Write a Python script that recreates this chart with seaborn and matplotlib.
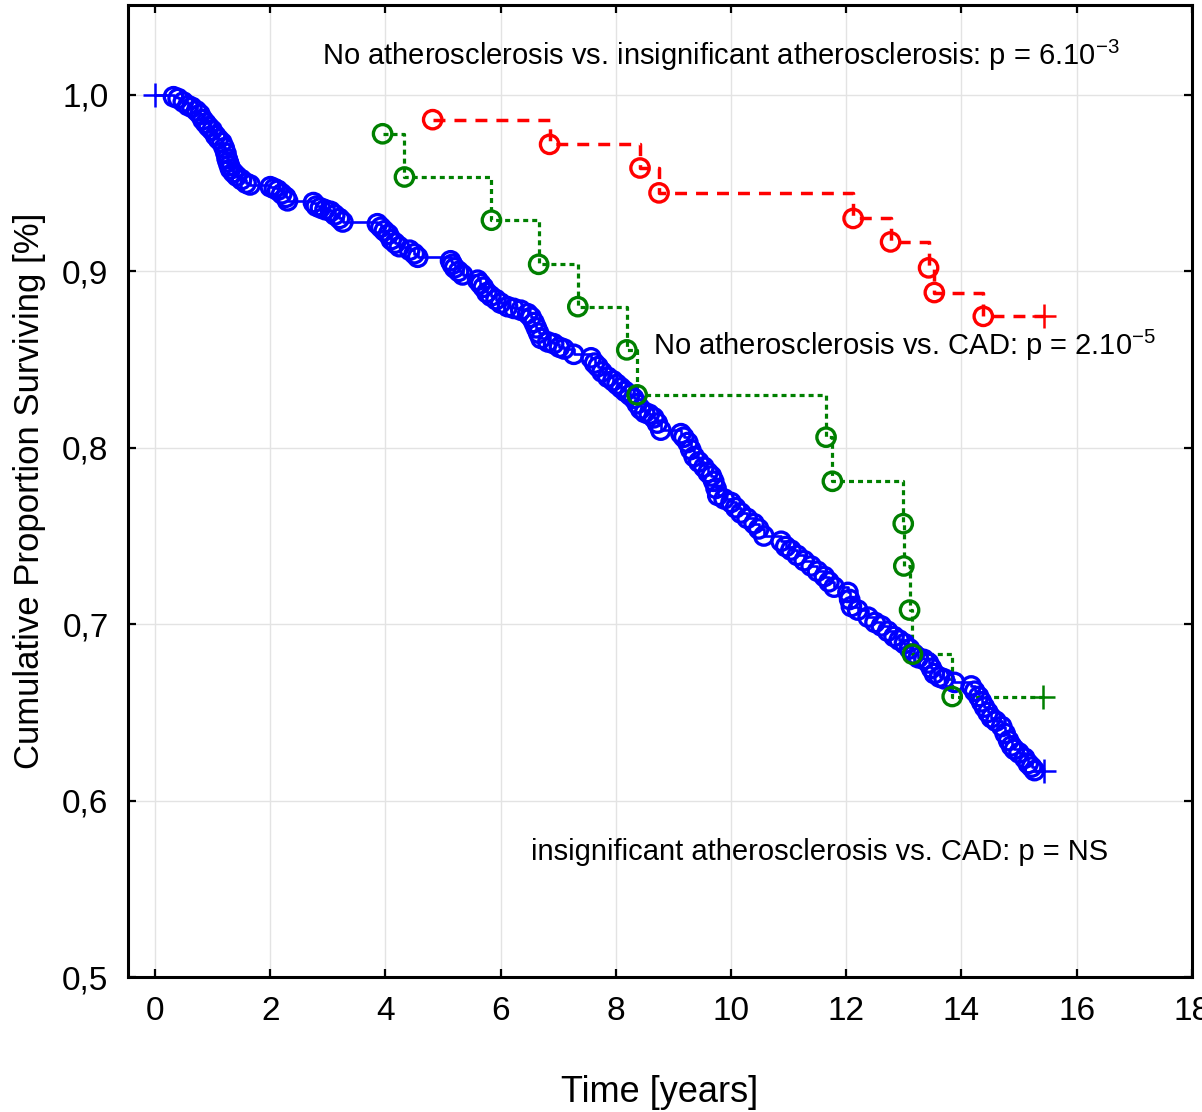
import matplotlib
matplotlib.use("Agg")
import matplotlib.pyplot as plt
import numpy as np
import pandas as pd
import seaborn as sns

# ---------------- data ----------------
# Blue: CAD group — event times (years) and survival after each event
blue_t = [0.32, 0.40, 0.49, 0.57, 0.64, 0.72, 0.78, 0.83, 0.88, 0.93, 0.99, 1.05, 1.10, 1.16,
          1.20, 1.23, 1.25, 1.27, 1.29, 1.31, 1.36, 1.42, 1.50, 1.58, 1.65,
          2.00, 2.07, 2.13, 2.20, 2.27, 2.30,
          2.75, 2.80, 2.87, 2.95, 3.05, 3.12, 3.20, 3.26,
          3.86, 3.92, 3.98, 4.05, 4.10, 4.17, 4.24, 4.42, 4.50, 4.56,
          5.13, 5.16, 5.20, 5.27, 5.34, 5.60, 5.65, 5.70, 5.76, 5.83, 5.92, 6.00, 6.12, 6.23,
          6.35, 6.47, 6.53, 6.58, 6.62, 6.66, 6.70, 6.82, 6.92, 7.02, 7.10, 7.27, 7.57, 7.63,
          7.69, 7.76, 7.86, 7.95, 8.02, 8.09, 8.16, 8.24, 8.31, 8.37, 8.43,
          8.50, 8.58, 8.66, 8.72, 8.78, 9.13, 9.18, 9.25, 9.30, 9.36, 9.44, 9.53, 9.60, 9.66,
          9.70, 9.74, 9.77, 9.88, 10.00, 10.08, 10.17, 10.28, 10.40, 10.48, 10.57, 10.87, 10.95,
          11.04, 11.15, 11.27, 11.39, 11.50, 11.62, 11.70, 11.79, 12.03, 12.06, 12.09, 12.20,
          12.38, 12.50, 12.61, 12.72, 12.83, 12.92, 13.01,
          13.10, 13.18, 13.25, 13.35, 13.43, 13.48, 13.53, 13.62, 13.70, 13.88, 14.17, 14.23,
          14.30, 14.35, 14.40, 14.46, 14.52, 14.60, 14.70, 14.76, 14.82, 14.87, 14.92, 15.00,
          15.10, 15.16, 15.22, 15.27]
blue_s = [0.999, 0.998, 0.996, 0.994, 0.993, 0.991, 0.989, 0.986, 0.984, 0.982, 0.980, 0.977, 0.975, 0.973,
          0.970, 0.967, 0.964, 0.962, 0.960, 0.958, 0.956, 0.954, 0.952, 0.950, 0.949,
          0.948, 0.947, 0.946, 0.944, 0.942, 0.940,
          0.939, 0.937, 0.936, 0.935, 0.934, 0.932, 0.930, 0.928,
          0.927, 0.925, 0.923, 0.921, 0.918, 0.916, 0.914, 0.912, 0.910, 0.908,
          0.906, 0.904, 0.902, 0.900, 0.898, 0.895, 0.893, 0.891, 0.888, 0.886, 0.884, 0.882, 0.880, 0.879,
          0.878, 0.876, 0.874, 0.871, 0.868, 0.865, 0.862, 0.860, 0.859, 0.857, 0.856, 0.853, 0.851, 0.848,
          0.846, 0.843, 0.840, 0.838, 0.836, 0.834, 0.832, 0.830, 0.828, 0.825, 0.822,
          0.820, 0.819, 0.817, 0.814, 0.810, 0.808, 0.806, 0.803, 0.799, 0.795, 0.792, 0.789, 0.786, 0.784,
          0.781, 0.777, 0.773, 0.771, 0.769, 0.766, 0.763, 0.760, 0.757, 0.754, 0.750, 0.747, 0.744,
          0.742, 0.739, 0.736, 0.733, 0.730, 0.727, 0.724, 0.721, 0.718, 0.714, 0.710, 0.708,
          0.704, 0.701, 0.699, 0.696, 0.693, 0.691, 0.689,
          0.686, 0.683, 0.681, 0.680, 0.678, 0.675, 0.672, 0.670, 0.669, 0.667, 0.665, 0.662,
          0.659, 0.656, 0.653, 0.650, 0.647, 0.645, 0.642, 0.638, 0.634, 0.631, 0.629, 0.627,
          0.624, 0.621, 0.619, 0.617]
blue_cens_t = [0.0, 15.43]
blue_cens_s = [1.0, 0.617]

# Green: insignificant atherosclerosis
green_t = [3.95, 4.33, 5.84, 6.66, 7.34, 8.19, 8.37, 11.65, 11.76, 12.99, 13.00, 13.10, 13.15, 13.84]
green_s = [0.978, 0.9535, 0.929, 0.904, 0.880, 0.8555, 0.830, 0.806, 0.781, 0.757, 0.733, 0.708, 0.683, 0.659]
green_cens_t = [15.41]
green_cens_s = [0.659]

# Red: no atherosclerosis
red_t = [4.82, 6.85, 8.42, 8.75, 12.12, 12.77, 13.43, 13.53, 14.38]
red_s = [0.986, 0.972, 0.9586, 0.9445, 0.930, 0.9167, 0.902, 0.888, 0.8745]
red_cens_t = [15.43]
red_cens_s = [0.8745]

x_ticks = [0, 2, 4, 6, 8, 10, 12, 14, 16, 18]
y_ticks = [0.5, 0.6, 0.7, 0.8, 0.9, 1.0]
y_tick_labels = ["0,5", "0,6", "0,7", "0,8", "0,9", "1,0"]

annotations = [
    ("No atherosclerosis vs. insignificant atherosclerosis: p = 6.10$^{-3}$", 9.83, 1.0227, "center"),
    ("No atherosclerosis vs. CAD: p = 2.10$^{-5}$", 8.64, 0.858, "left"),
    ("insignificant atherosclerosis vs. CAD: p = NS", 6.52, 0.571, "left"),
]

# ---------------- style ----------------
sns.set_theme(style="white")
plt.rcParams["font.family"] = ["Liberation Sans", "DejaVu Sans"]
plt.rcParams["mathtext.default"] = "regular"
plt.rcParams["lines.scale_dashes"] = False

fig = plt.figure(figsize=(12.02, 11.12), dpi=100)
ax = fig.add_axes([0.1065, 0.1214, 0.885, 0.8741])

groups = [
    ("blue", "#0000ff", blue_t, blue_s, blue_cens_t, blue_cens_s, None, 1.9),
    ("green", "#008000", green_t, green_s, green_cens_t, green_cens_s, (3.6, 2.9), 2.3),
    ("red", "#ff0000", red_t, red_s, red_cens_t, red_cens_s, (8.6, 6.5), 2.5),
]

for name, col, t, s, ct, cs, dashes, lw in groups:
    if name == "blue":
        lt = [ct[0]] + t + [ct[-1]]
        ls_ = [cs[0]] + s + [cs[-1]]
    else:
        lt = t + ct
        ls_ = s + cs
    dline = pd.DataFrame({"t": lt, "s": ls_})
    n_before = len(ax.lines)
    sns.lineplot(data=dline, x="t", y="s", estimator=None, sort=False,
                 drawstyle="steps-post", color=col, linewidth=lw, ax=ax, zorder=3)
    if dashes is not None:
        for ln in ax.lines[n_before:]:
            ln.set_dashes(dashes)
    dev = pd.DataFrame({"t": t, "s": s})
    sns.scatterplot(data=dev, x="t", y="s", marker="o", s=175, facecolors="none",
                    edgecolor=col, linewidth=2.4, ax=ax, zorder=4)
    dc = pd.DataFrame({"t": ct, "s": cs})
    sns.scatterplot(data=dc, x="t", y="s", marker="+", s=300, color=col,
                    linewidth=1.8, ax=ax, zorder=4)

ax.set_xlim(-0.47, 18.0)
ax.set_ylim(0.5, 1.051)
ax.set_xticks(x_ticks)
ax.set_yticks(y_ticks)
ax.set_yticklabels(y_tick_labels)
ax.grid(True, color="#e3e3e3", linewidth=1.0)
ax.set_axisbelow(True)

for sp in ax.spines.values():
    sp.set_color("black")
    sp.set_linewidth(2.2)
    sp.set_visible(True)

ax.tick_params(axis="both", which="major", direction="in", length=6, width=1.6,
               top=True, right=True, bottom=True, left=True, labelsize=24,
               colors="black")
ax.tick_params(axis="x", pad=14)
ax.tick_params(axis="y", pad=14)

ax.set_xlabel("Time [years]", fontsize=26, labelpad=34, color="black")
ax.set_ylabel("Cumulative Proportion Surviving [%]", fontsize=25, labelpad=12, color="black")

for txt, tx, ty, ha in annotations:
    ax.text(tx, ty, txt, ha=ha, va="center", fontsize=21, color="black")

fig.savefig("out.png", dpi=100, facecolor="white")
